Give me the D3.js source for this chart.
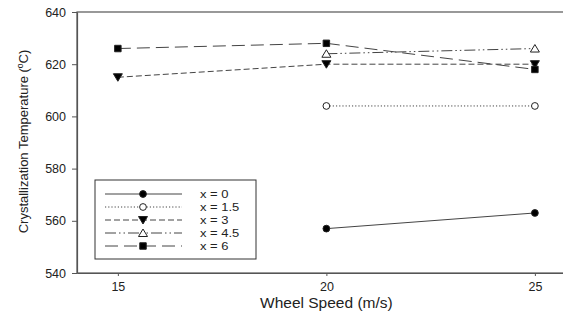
<!DOCTYPE html>
<html>
<head>
  <meta charset="utf-8">
  <title>Crystallization Temperature</title>
  <script src="https://d3js.org/d3.v7.min.js"></script>
  <style>
    body { margin: 0; background: #fff; }
    text { font-family: "Liberation Sans", Arial, sans-serif; fill: #222; }
  </style>
</head>
<body>
<div id="output"></div>
<script type="text/javascript">

  // data
  var speeds = [15, 20, 25];
  var seriesNames = ["x = 0", "x = 1.5", "x = 3", "x = 4.5", "x = 6"];
  var x0 = [null, 557, 563];
  var x15 = [null, 604, 604];
  var x3 = [615, 620, 620];
  var x45 = [null, 624, 626];
  var x6 = [626, 628, 618];
  var yTicks = [540, 560, 580, 600, 620, 640];

  var w = 563, h = 323;
  var margin = {top: 12, right: -4, bottom: 50, left: 77};
  var wChart = w - margin.left - margin.right;
  var hChart = h - margin.top - margin.bottom;

  var x = d3.scaleLinear().domain([14.02, 25.77]).range([0, wChart]);
  var y = d3.scaleLinear().domain([540, 640]).range([hChart, 0]);

  var series = [
    {name: seriesNames[0], values: x0, dash: null, marker: "circle", fill: "#000"},
    {name: seriesNames[1], values: x15, dash: "1.2,2", marker: "circle", fill: "#fff"},
    {name: seriesNames[2], values: x3, dash: "6,3", marker: "tdown", fill: "#000"},
    {name: seriesNames[3], values: x45, dash: "11,3,1.5,3,1.5,3", marker: "tup", fill: "#fff"},
    {name: seriesNames[4], values: x6, dash: "13,6", marker: "square", fill: "#000"}
  ];

  var svg = d3.select("#output").append("svg")
      .attr("width", w)
      .attr("height", h);

  var chart = svg.append("g")
      .attr("transform", "translate(" + margin.left + "," + margin.top + ")");

  // frame
  chart.append("rect")
      .attr("x", 0).attr("y", 0)
      .attr("width", wChart).attr("height", hChart)
      .attr("fill", "none")
      .attr("stroke", "#555")
      .attr("stroke-width", 1.2);

  var xAxis = d3.axisBottom(x).tickValues(speeds).tickSizeInner(3).tickSizeOuter(0).tickPadding(6);
  var yAxis = d3.axisLeft(y).tickValues(yTicks).tickSizeInner(5).tickSizeOuter(0).tickPadding(6);

  var gx = chart.append("g")
      .attr("transform", "translate(0," + hChart + ")")
      .call(xAxis);
  var gy = chart.append("g").call(yAxis);

  [gx, gy].forEach(function(g) {
    g.select(".domain").attr("stroke", "#555").attr("stroke-width", 1.2);
    g.selectAll(".tick line").attr("stroke", "#555");
    g.selectAll(".tick text").style("font-size", "12.5px").style("fill", "#222")
        .style("font-family", "Liberation Sans, Arial, sans-serif");
  });

  function markerPath(type) {
    if (type === "circle") return d3.symbol().type(d3.symbolCircle).size(36)();
    if (type === "square") return d3.symbol().type(d3.symbolSquare).size(42)();
    if (type === "tup") return "M0,-4L4.5,3.5L-4.5,3.5Z";
    return "M0,4L4.5,-3.5L-4.5,-3.5Z";
  }

  var line = d3.line()
      .defined(function(d) { return d[1] !== null; })
      .x(function(d) { return x(d[0]); })
      .y(function(d) { return y(d[1]); });

  series.forEach(function(s) {
    var pts = speeds.map(function(sp, i) { return [sp, s.values[i]]; });
    chart.append("path")
        .datum(pts)
        .attr("d", line)
        .attr("fill", "none")
        .attr("stroke", "#444")
        .attr("stroke-width", 1)
        .attr("stroke-dasharray", s.dash);

    chart.selectAll(null)
        .data(pts.filter(function(d) { return d[1] !== null; }))
        .enter()
        .append("path")
        .attr("d", markerPath(s.marker))
        .attr("transform", function(d) { return "translate(" + x(d[0]) + "," + y(d[1]) + ")"; })
        .attr("fill", s.fill)
        .attr("stroke", "#222")
        .attr("stroke-width", 1);
  });

  // legend
  var legend = svg.append("g").attr("transform", "translate(95,180)");
  legend.append("rect")
      .attr("width", 161).attr("height", 79)
      .attr("fill", "#fff")
      .attr("stroke", "#333")
      .attr("stroke-width", 1);

  series.forEach(function(s, i) {
    var row = legend.append("g").attr("transform", "translate(0," + (14 + i * 13) + ")");
    row.append("line")
        .attr("x1", 10).attr("x2", 87)
        .attr("stroke", "#444")
        .attr("stroke-width", 1)
        .attr("stroke-dasharray", s.dash);
    row.append("path")
        .attr("d", markerPath(s.marker))
        .attr("transform", "translate(48,0)")
        .attr("fill", s.fill)
        .attr("stroke", "#222");
    // text in the reference is a bit wide, so stretch it sideways
    row.append("text")
        .attr("transform", "translate(105,0) scale(1.18,1)")
        .attr("dy", "0.35em")
        .style("font-size", "11px")
        .text(s.name);
  });

  // axis titles
  svg.append("text")
      .attr("x", margin.left + x(20))
      .attr("y", 308)
      .attr("text-anchor", "middle")
      .style("font-size", "15.5px")
      .text("Wheel Speed (m/s)");

  var yt = svg.append("text")
      .attr("transform", "translate(28," + (margin.top + hChart / 2 - 1) + ") rotate(-90)")
      .attr("text-anchor", "middle")
      .style("font-size", "13px");
  yt.append("tspan").text("Crystallization Temperature (");
  yt.append("tspan").attr("baseline-shift", "super").style("font-size", "8.5px").text("o");
  yt.append("tspan").text("C)");

</script>
</body>
</html>
